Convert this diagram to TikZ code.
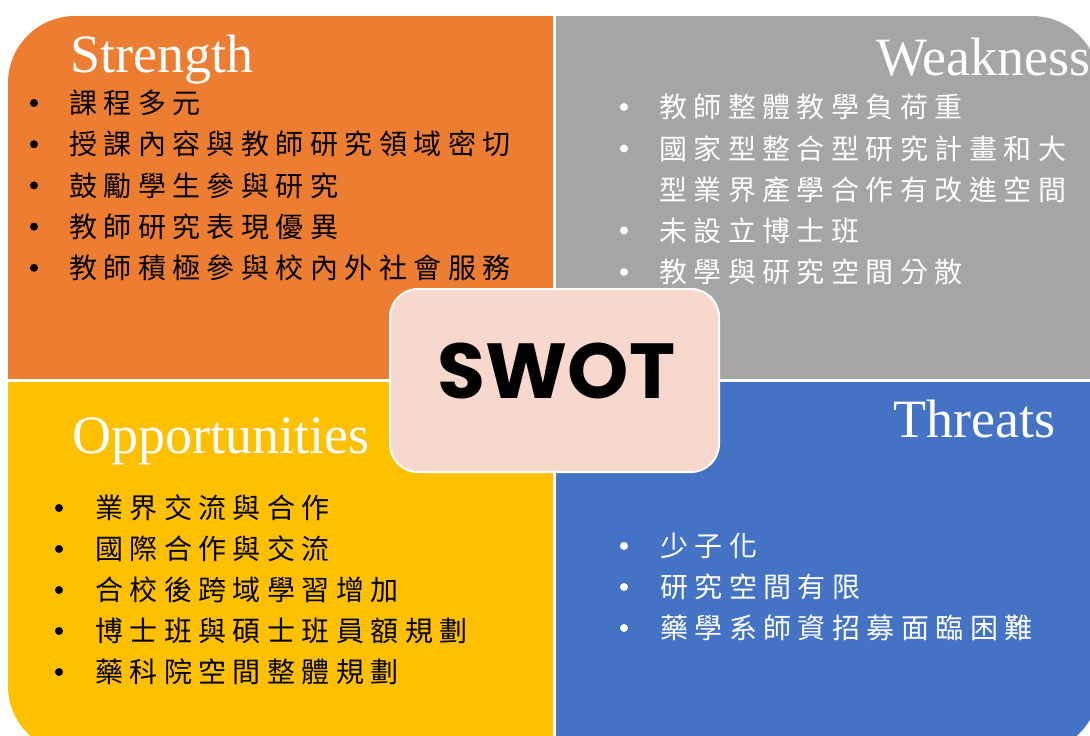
\documentclass[tikz,border=0pt]{standalone}
\usepackage{fontspec}
\setmainfont{Liberation Serif}
\newfontfamily\cjk[LetterSpace=23]{Noto Sans CJK TC}
\newfontfamily\swotfont{Poppins}
\definecolor{qorange}{HTML}{ED7D31}
\definecolor{qgray}{HTML}{A5A5A5}
\definecolor{qyellow}{HTML}{FFC000}
\definecolor{qblue}{HTML}{4472C4}
\definecolor{qpink}{HTML}{F8D7CC}
\tikzset{
  qtitle/.style={anchor=base west, inner sep=0, text=white, font=\fontsize{54}{60}\selectfont},
  qitem/.style={anchor=west, inner sep=0, font=\cjk\fontsize{28}{30}\selectfont},
  qbul/.style={circle, fill=#1, minimum size=8pt, inner sep=0},
}
\begin{document}
\begin{tikzpicture}[x=1pt,y=-1pt]
\useasboundingbox (0,0) rectangle (1090,736);
\begin{scope}
  \clip[rounded corners=67pt] (8,16) rectangle (1099,753);
  \fill[qorange] (0,0) rectangle (554.5,380.5);
  \fill[qgray] (554.5,0) rectangle (1100,380.5);
  \fill[qyellow] (0,380.5) rectangle (554.5,760);
  \fill[qblue] (554.5,380.5) rectangle (1100,760);
\end{scope}
\draw[white, line width=2.5pt] (554.5,0) -- (554.5,760);
\draw[white, line width=2.5pt] (0,380.5) -- (1100,380.5);

% Strength
\node[qtitle] (st) at (70,72) {Strength};
\foreach \t [count=\i] in {課程多元,授課內容與教師研究領域密切,鼓勵學生參與研究,教師研究表現優異,教師積極參與校內外社會服務}{
  \pgfmathsetmacro\yy{103+41.2*(\i-1)}
  \node[qbul=black] (sb\i) at (34,\yy) {};
  \node[qitem, text=black] (s\i) at (69,\yy) {\t};
}
% Weakness
\node[qtitle] (wt) at (876,75) {Weakness};
\node[qbul=white] (wb1) at (624,107) {};
\node[qitem, text=white] (w1) at (659,107) {教師整體教學負荷重};
\node[qbul=white] (wb2) at (624,148.5) {};
\node[qitem, text=white] (w2) at (659,148.5) {國家型整合型研究計畫和大};
\node[qitem, text=white] (w3) at (659,189.5) {型業界產學合作有改進空間};
\node[qbul=white] (wb4) at (624,230.5) {};
\node[qitem, text=white] (w4) at (659,230.5) {未設立博士班};
\node[qbul=white] (wb5) at (624,272) {};
\node[qitem, text=white] (w5) at (659,272) {教學與研究空間分散};
% Opportunities
\node[qtitle] (ot) at (72,453) {Opportunities};
\foreach \t [count=\i] in {業界交流與合作,國際合作與交流,合校後跨域學習增加,博士班與碩士班員額規劃,藥科院空間整體規劃}{
  \pgfmathsetmacro\yy{508+41*(\i-1)}
  \node[qbul=black] (ob\i) at (59,\yy) {};
  \node[qitem, text=black] (o\i) at (95,\yy) {\t};
}
% Threats
\node[qtitle] (tt) at (893,437) {Threats};
\foreach \t [count=\i] in {少子化,研究空間有限,藥學系師資招募面臨困難}{
  \pgfmathsetmacro\yy{546+41*(\i-1)}
  \node[qbul=white] (tb\i) at (624,\yy) {};
  \node[qitem, text=white] (t\i) at (660,\yy) {\t};
}
% center
\node[draw=white, line width=2pt, fill=qpink, rounded corners=28pt,
      minimum width=329pt, minimum height=183pt] (box) at (554.5,380.5) {};
\node[anchor=base, inner sep=0, font=\swotfont\bfseries\fontsize{78}{90}\selectfont] (swot) at (556.5,398) {SWOT};
\end{tikzpicture}
\end{document}
